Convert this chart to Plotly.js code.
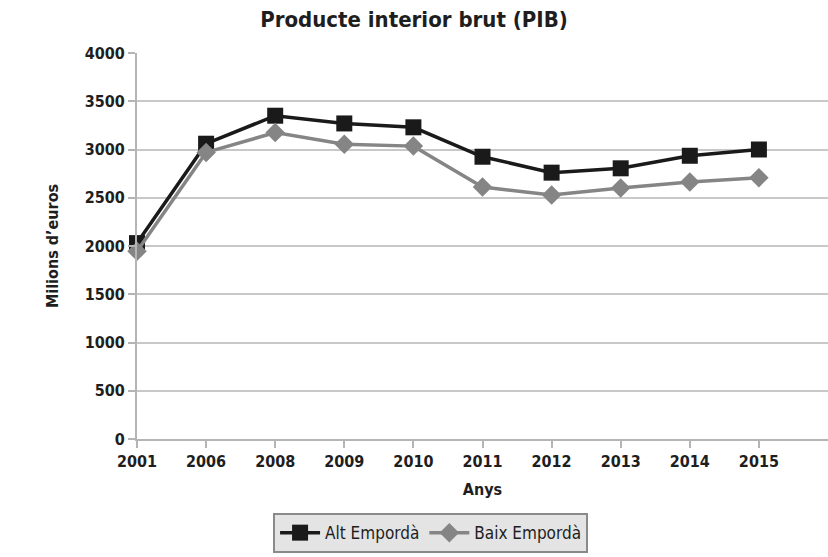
<!DOCTYPE html>
<html>
<head>
<meta charset="utf-8">
<script src="https://cdn.plot.ly/plotly-3.0.1.min.js"></script>
<style>html,body{margin:0;padding:0;background:#fff}#chart{width:828px;height:557px}</style>
</head>
<body>
<div id="chart"></div>
<script>
const years = ['2001','2006','2008','2009','2010','2011','2012','2013','2014','2015'];
const altEmporda = [2030, 3060, 3350, 3270, 3230, 2925, 2760, 2805, 2935, 3000];
const baixEmporda = [1945, 2970, 3175, 3055, 3035, 2612, 2528, 2602, 2664, 2708];
const yTicks = [0, 500, 1000, 1500, 2000, 2500, 3000, 3500, 4000];

const FONT = '"Liberation Sans Narrow", "DejaVu Sans Condensed", "Roboto Condensed", sans-serif';

const traces = [
  {
    x: years, y: altEmporda, name: 'Alt Empordà', type: 'scatter', mode: 'lines+markers',
    line: {color: '#1a1a1a', width: 3.5},
    marker: {symbol: 'square', size: 16, color: '#1a1a1a'},
    cliponaxis: false
  },
  {
    x: years, y: baixEmporda, name: 'Baix Empordà', type: 'scatter', mode: 'lines+markers',
    line: {color: '#858585', width: 3.5},
    marker: {symbol: 'diamond', size: 15, color: '#858585'},
    cliponaxis: false
  }
];

const layout = {
  width: 828, height: 557,
  margin: {l: 137, r: 0, t: 53, b: 118},
  paper_bgcolor: '#ffffff', plot_bgcolor: '#ffffff',
  font: {family: FONT, color: '#1e1e1e'},
  title: {text: '<b>Producte interior brut (PIB)</b>', x: 0.5, xref: 'container', y: 0.965, yref: 'container', yanchor: 'middle', font: {size: 22, family: FONT, color: '#1e1e1e'}},
  xaxis: {
    type: 'category', range: [0, 10], categoryorder: 'array', categoryarray: years,
    tickvals: years, ticktext: years.map(t => '<b>' + t + '</b>'),
    showgrid: false, zeroline: false,
    showline: true, linecolor: '#b5b5b5', linewidth: 2,
    ticks: 'outside', ticklen: 7, tickcolor: '#b5b5b5', tickwidth: 2,
    tickfont: {size: 16, family: FONT, color: '#1e1e1e'},
    title: {text: '<b>Anys</b>', font: {size: 16, family: FONT, color: '#1e1e1e'}, standoff: 14}
  },
  yaxis: {
    range: [0, 4000], tickvals: yTicks, ticktext: yTicks.map(t => '<b>' + t + '</b>'),
    showgrid: true, gridcolor: '#c8c8c8', gridwidth: 2, zeroline: false,
    showline: true, linecolor: '#b5b5b5', linewidth: 2,
    ticks: 'outside', ticklen: 7, tickcolor: '#b5b5b5', tickwidth: 2,
    tickfont: {size: 16, family: FONT, color: '#1e1e1e'},
    title: {text: '<b>Milions d’euros</b>', font: {size: 16, family: FONT, color: '#1e1e1e'}, standoff: 22}
  },
  showlegend: true,
  legend: {
    orientation: 'h', xref: 'container', yref: 'container', x: 0.52, xanchor: 'center', y: 0.007, yanchor: 'bottom',
    bgcolor: '#e4e4e4', bordercolor: '#8a8a8a', borderwidth: 2,
    font: {size: 17, family: FONT, color: '#1e1e1e'}, itemwidth: 40
  }
};

Plotly.newPlot('chart', traces, layout, {displayModeBar: false, staticPlot: true});
</script>
</body>
</html>
